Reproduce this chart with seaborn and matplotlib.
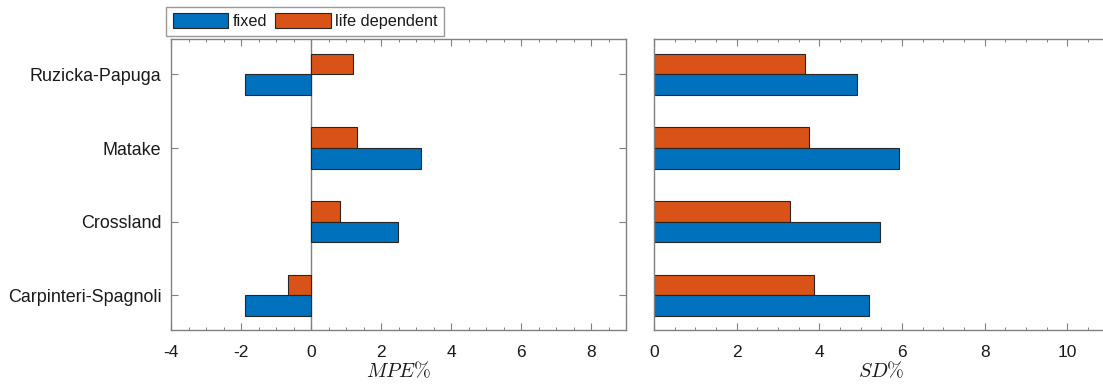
import matplotlib
matplotlib.use("Agg")
import matplotlib.pyplot as plt
import seaborn as sns
import pandas as pd
from matplotlib.patches import Patch
from matplotlib.ticker import MultipleLocator

categories = ['Ruzicka-Papuga', 'Matake', 'Crossland', 'Carpinteri-Spagnoli']
series = ['fixed', 'life dependent']
mpe_fixed = [-1.89, 3.14, 2.48, -1.89]
mpe_life = [1.21, 1.31, 0.84, -0.65]
sd_fixed = [4.91, 5.94, 5.47, 5.21]
sd_life = [3.65, 3.74, 3.30, 3.86]

colors = {'fixed': '#0072BD', 'life dependent': '#D95319'}

df = pd.DataFrame({
    'method': categories * 2,
    'series': ['fixed'] * 4 + ['life dependent'] * 4,
    'MPE': mpe_fixed + mpe_life,
    'SD': sd_fixed + sd_life,
})

sns.set_style('white')
plt.rcParams['font.family'] = ['Liberation Sans', 'DejaVu Sans']
plt.rcParams['mathtext.fontset'] = 'cm'
plt.rcParams['axes.unicode_minus'] = False
plt.rcParams['text.color'] = '#1a1a1a'
plt.rcParams['xtick.labelcolor'] = '#1a1a1a'
plt.rcParams['ytick.labelcolor'] = '#1a1a1a'

W, H = 1103, 385
fig = plt.figure(figsize=(W / 100, H / 100), dpi=100)
ax1 = fig.add_axes([171 / W, 1 - 330 / H, (626 - 171) / W, (330 - 39) / H])
ax2 = fig.add_axes([654 / W, 1 - 330 / H, 454.6 / W, (330 - 39) / H])

spine_c = '#808080'
for ax, col, xl, lab in [(ax1, 'MPE', (-4, 9), r'$MPE\%$'), (ax2, 'SD', (0, 11), r'$SD\%$')]:
    sns.barplot(data=df, y='method', x=col, hue='series', order=categories,
                hue_order=['life dependent', 'fixed'], palette=colors,
                orient='h', width=0.56, gap=0, saturation=1,
                edgecolor='#262626', linewidth=0.8, legend=False, ax=ax)
    ax.set_xlim(*xl)
    ax.set_ylim(3.47, -0.48)
    ax.xaxis.set_major_locator(MultipleLocator(2))
    ax.xaxis.set_minor_locator(MultipleLocator(0.5))
    ax.set_xlabel(lab, fontsize=14.5, labelpad=0, color='#1a1a1a')
    ax.set_ylabel('')
    for s in ax.spines.values():
        s.set_visible(True)
        s.set_color(spine_c)
        s.set_linewidth(1.0)
    ax.tick_params(axis='x', which='major', direction='in', length=5, width=0.8,
                   color=spine_c, top=True, bottom=True, labelsize=12.5, pad=11)
    ax.tick_params(axis='x', which='minor', direction='in', length=2.5, width=0.7,
                   color=spine_c, top=True, bottom=True)

ax1.tick_params(axis='y', which='major', direction='in', length=5, width=0.8,
                color=spine_c, left=True, right=True, labelsize=12.9, pad=7)
ax1.axvline(0, color=spine_c, lw=1.0, zorder=0.5)

ax2.tick_params(axis='y', left=False, right=False, labelleft=False)
ax2.spines['right'].set_visible(False)

handles = [Patch(facecolor=colors[s], edgecolor='#262626', linewidth=0.8) for s in series]
leg = fig.legend(handles, series, ncol=2, loc='upper left',
                 bbox_to_anchor=(166 / W, 1 - 7 / H), frameon=True, fancybox=False,
                 edgecolor=spine_c, fontsize=11.7, handlelength=3.4, handleheight=1.0,
                 columnspacing=0.5, handletextpad=0.3, borderpad=0.4, borderaxespad=0)
leg.get_frame().set_linewidth(1.0)

fig.savefig('out.png', dpi=100)
